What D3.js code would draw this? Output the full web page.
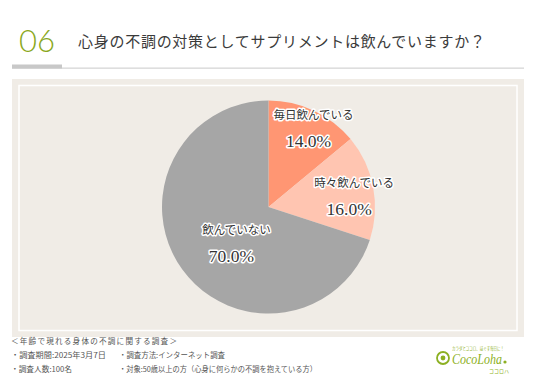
<!DOCTYPE html>
<html><head><meta charset="utf-8">
<script src="https://cdn.jsdelivr.net/npm/d3@7"></script>
<style>
html,body{margin:0;padding:0;background:#fff;}
svg{display:block;}
</style></head>
<body>
<svg id="chart" width="536" height="383"></svg>
<script>
// ---- data ----
const categories = ["毎日飲んでいる", "時々飲んでいる", "飲んでいない"];
const values = [14.0, 16.0, 70.0];
const valueLabels = ["14.0%", "16.0%", "70.0%"];
const sliceColors = ["#ff9673", "#ffc5b1", "#a6a6a6"];
const questionNumber = "06";
const questionTitle = "心身の不調の対策としてサプリメントは飲んでいますか？";
const surveyTitle = "＜年齢で現れる身体の不調に関する調査＞";
const surveyLeft = ["・調査期間:2025年3月7日", "・調査人数:100名"];
const surveyRight = ["・調査方法:インターネット調査", "・対象:50歳以上の方（心身に何らかの不調を抱えている方）"];

const W = 536, H = 383;
const svg = d3.select("#chart");
const JP = "'Noto Sans CJK JP','Noto Sans',sans-serif";

// header
svg.append("text").attr("x", 19).attr("y", 52)
  .attr("font-family", "Lato, 'Noto Sans', sans-serif").attr("font-weight", 300)
  .attr("font-size", 31).attr("fill", "#8aa81c").text(questionNumber);
svg.append("text").attr("x", 78).attr("y", 47)
  .attr("font-family", JP).attr("font-weight", 400)
  .attr("font-size", 15).attr("fill", "#3a3a3a")
  .attr("textLength", 407).attr("lengthAdjust", "spacing")
  .text(questionTitle);
svg.append("rect").attr("x", 12).attr("y", 67.5).attr("width", 512).attr("height", 1.3).attr("fill", "#d6d6d6");
svg.append("rect").attr("x", 12).attr("y", 64.5).attr("width", 50).attr("height", 4).attr("fill", "#c8c8c8");

// panel
svg.append("rect").attr("x", 12).attr("y", 79).attr("width", 512).attr("height", 258).attr("fill", "#f0ece6");
svg.append("rect").attr("x", 19).attr("y", 85.5).attr("width", 498).attr("height", 245)
  .attr("fill", "none").attr("stroke", "#fff").attr("stroke-width", 1.5);

// pie
const cx = 268.5, cy = 207, R = 106.5;
const pie = d3.pie().sort(null).value(d => d)(values);
const arc = d3.arc().innerRadius(0).outerRadius(R);
const g = svg.append("g").attr("transform", `translate(${cx},${cy})`);
g.selectAll("path").data(pie).join("path")
  .attr("d", arc).attr("fill", (d, i) => sliceColors[i]);

// labels
const labelRatio = [0.84, 0.78, 0.5];
const nudge = [[3, 2], [0, 5], [7, 5]];
pie.forEach((d, i) => {
  const lr = R * labelRatio[i];
  const c = d3.arc().innerRadius(lr).outerRadius(lr).centroid(d);
  const x = c[0] + nudge[i][0], y = c[1] + nudge[i][1];
  const lg = g.append("g").attr("transform", `translate(${x},${y})`);
  lg.append("text").attr("x", 4).attr("y", -9)
    .attr("text-anchor", "middle")
    .attr("font-family", JP).attr("font-size", 11.5).attr("fill", "#333")
    .attr("stroke", "#fff").attr("stroke-width", 3).attr("paint-order", "stroke")
    .attr("stroke-linejoin", "round")
    .text(categories[i]);
  lg.append("text").attr("x", -1).attr("y", 19)
    .attr("text-anchor", "middle")
    .attr("font-family", "'Liberation Serif', serif").attr("font-size", 17.5).attr("fill", "#333")
    .attr("stroke", "#fff").attr("stroke-width", 3).attr("paint-order", "stroke")
    .attr("stroke-linejoin", "round")
    .text(valueLabels[i]);
});

// footer
const ft = svg.append("g").attr("font-family", JP).attr("font-size", 7.6).attr("fill", "#555");
ft.append("text").attr("x", 11).attr("y", 344).attr("textLength", 166).attr("lengthAdjust", "spacing").text(surveyTitle);
const leftLen = [95, 61], rightLen = [106, 198];
surveyLeft.forEach((t, i) => ft.append("text").attr("x", 11).attr("y", 358 + i * 13.5)
  .attr("textLength", leftLen[i]).attr("lengthAdjust", "spacingAndGlyphs").text(t));
surveyRight.forEach((t, i) => ft.append("text").attr("x", 119).attr("y", 358 + i * 13.5)
  .attr("textLength", rightLen[i]).attr("lengthAdjust", "spacingAndGlyphs").text(t));

// logo
const lg = svg.append("g").attr("fill", "#8cb022");
lg.append("circle").attr("cx", 443).attr("cy", 358).attr("r", 6).attr("fill", "none")
  .attr("stroke", "#8cb022").attr("stroke-width", 1.8);
lg.append("circle").attr("cx", 443).attr("cy", 358).attr("r", 2.4);
lg.append("text").attr("x", 452).attr("y", 364)
  .attr("font-family", "'Liberation Serif', serif").attr("font-style", "italic")
  .attr("font-size", 15).attr("textLength", 50).attr("lengthAdjust", "spacingAndGlyphs").text("CocoLoha");
lg.append("circle").attr("cx", 505).attr("cy", 362).attr("r", 1.6);
lg.append("text").attr("x", 452).attr("y", 350).attr("font-family", JP).attr("font-size", 4.5)
  .attr("textLength", 52).attr("lengthAdjust", "spacingAndGlyphs").text("カラダとココロ、ほぐす毎日に！");
lg.append("text").attr("x", 489).attr("y", 373).attr("font-family", JP).attr("font-size", 5).text("ココロハ");
</script>
</body></html>
